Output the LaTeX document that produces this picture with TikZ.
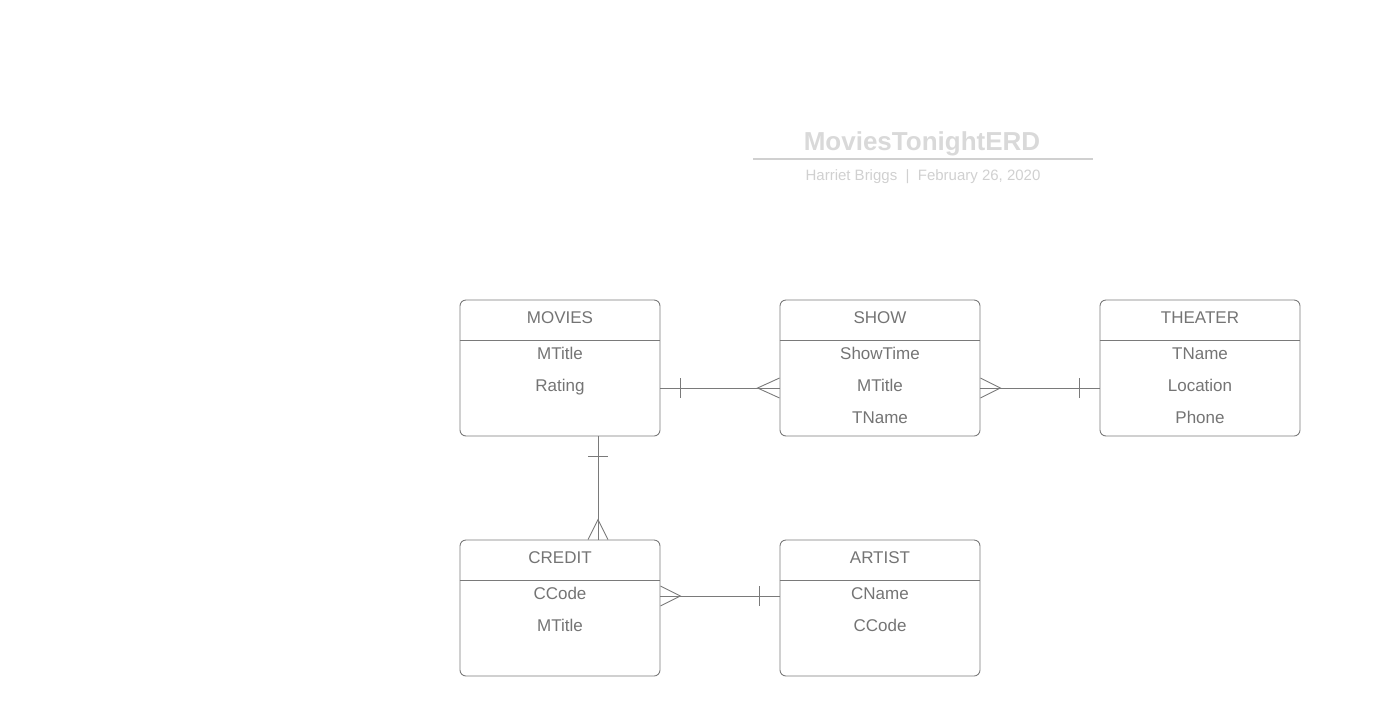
\documentclass[tikz,border=0pt]{standalone}
\usepackage{fontspec}
\setmainfont{Liberation Sans}
\usetikzlibrary{calc}
\definecolor{linegray}{HTML}{7A7A7A}
\definecolor{textgray}{HTML}{747474}
\definecolor{titlegray}{HTML}{D9D9D9}
\definecolor{subgray}{HTML}{D0D0D0}
\begin{document}
\begin{tikzpicture}[x=1pt, y=-1pt,
  entity/.style={draw=linegray, line width=0.9pt, rounded corners=6pt, minimum width=200pt, minimum height=136pt, inner sep=0pt},
  field/.style={text=textgray, font=\fontsize{17}{20}\selectfont, inner sep=0pt, anchor=base},
  link/.style={draw=linegray, line width=0.9pt}]
\useasboundingbox (0,0) rectangle (1387,716);

% Title block
\node[anchor=base, inner sep=0pt, font=\bfseries\fontsize{26}{30}\selectfont, text=titlegray] (title) at (922,150) {MoviesTonightERD};
\draw[subgray, line width=2pt] (753,159) -- (1093,159);
\node[anchor=base, inner sep=0pt, font=\fontsize{15}{18}\selectfont, text=subgray] (subtitle) at (923,180) {Harriet Briggs\ \ |\ \ February 26, 2020};

% Entities
\node[entity] (movies) at (560,368) {};
\draw[link] (movies.west |- 0,340) -- (movies.east |- 0,340);
\node[field] (moviesHead) at (560,323) {MOVIES};
\node[field] (moviesMTitle) at (560,359) {MTitle};
\node[field] (moviesRating) at (560,391) {Rating};

\node[entity] (show) at (880,368) {};
\draw[link] (show.west |- 0,340) -- (show.east |- 0,340);
\node[field] (showHead) at (880,323) {SHOW};
\node[field] (showShowTime) at (880,359) {ShowTime};
\node[field] (showMTitle) at (880,391) {MTitle};
\node[field] (showTName) at (880,423) {TName};

\node[entity] (theater) at (1200,368) {};
\draw[link] (theater.west |- 0,340) -- (theater.east |- 0,340);
\node[field] (theaterHead) at (1200,323) {THEATER};
\node[field] (theaterTName) at (1200,359) {TName};
\node[field] (theaterLocation) at (1200,391) {Location};
\node[field] (theaterPhone) at (1200,423) {Phone};

\node[entity] (credit) at (560,608) {};
\draw[link] (credit.west |- 0,580) -- (credit.east |- 0,580);
\node[field] (creditHead) at (560,563) {CREDIT};
\node[field] (creditCCode) at (560,599) {CCode};
\node[field] (creditMTitle) at (560,631) {MTitle};

\node[entity] (artist) at (880,608) {};
\draw[link] (artist.west |- 0,580) -- (artist.east |- 0,580);
\node[field] (artistHead) at (880,563) {ARTIST};
\node[field] (artistCName) at (880,599) {CName};
\node[field] (artistCCode) at (880,631) {CCode};

% Relationships (bar = one, crow's foot = many)
\draw[link] (movies.east |- 0,388) -- (show.west |- 0,388);
\draw[link] ($(movies.east |- 0,388)+(20,-10)$) -- ++(0,20);
\draw[link] ($(show.west |- 0,388)+(0,-10)$) -- ++(-22,10) -- ++(22,10);

\draw[link] (show.east |- 0,388) -- (theater.west |- 0,388);
\draw[link] ($(show.east |- 0,388)+(0,-10)$) -- ++(20,10) -- ++(-20,10);
\draw[link] ($(theater.west |- 0,388)+(-20,-10)$) -- ++(0,20);

\draw[link] (movies.south -| 598,0) -- (credit.north -| 598,0);
\draw[link] ($(movies.south -| 598,0)+(-10,20)$) -- ++(20,0);
\draw[link] ($(credit.north -| 598,0)+(-10,0)$) -- ++(10,-20) -- ++(10,20);

\draw[link] (credit.east |- 0,596) -- (artist.west |- 0,596);
\draw[link] ($(credit.east |- 0,596)+(0,-10)$) -- ++(20,10) -- ++(-20,10);
\draw[link] ($(artist.west |- 0,596)+(-20,-10)$) -- ++(0,20);
\end{tikzpicture}
\end{document}
